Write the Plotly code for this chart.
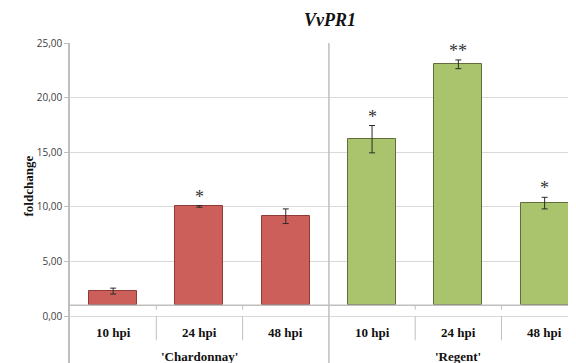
import plotly.graph_objects as go

# --- data ---
hpi_labels = ["10 hpi", "24 hpi", "48 hpi", "10 hpi", "24 hpi", "48 hpi"]
cultivars = ["'Chardonnay'", "'Regent'"]
chardonnay_vals = [2.3, 10.05, 9.15]
chardonnay_err = [0.27, 0.08, 0.67]
regent_vals = [16.2, 23.05, 10.35]
regent_err = [1.25, 0.4, 0.53]
stars = ["", "*", "", "*", "**", "*"]
baseline = 1.0
y_ticks = [0, 5, 10, 15, 20, 25]
y_ticktext = ["0,00", "5,00", "10,00", "15,00", "20,00", "25,00"]

serif = "Liberation Serif"
sans = "Open Sans"
grid_col = "#d9d9d9"
axis_col = "#bfbfbf"

# the page body adds an 8px offset, so the figure is a bit smaller
W, H = 568, 355
ML, MT = 62, 35
plot_w = W - ML

x_ch = [0, 1, 2]
x_re = [3, 4, 5]

fig = go.Figure()

fig.add_trace(go.Bar(
    x=x_ch, y=[v - baseline for v in chardonnay_vals], base=baseline,
    width=0.556,
    marker=dict(color="#cd5f5b", line=dict(color="#8e3b38", width=1)),
    error_y=dict(type="data", array=chardonnay_err, color="#2b2b2b",
                 thickness=1, width=3),
    showlegend=False,
))
fig.add_trace(go.Bar(
    x=x_re, y=[v - baseline for v in regent_vals], base=baseline,
    width=0.556,
    marker=dict(color="#a9c46c", line=dict(color="#5f6e3a", width=1)),
    error_y=dict(type="data", array=regent_err, color="#2b2b2b",
                 thickness=1, width=3),
    showlegend=False,
))

# --- significance stars ---
all_vals = chardonnay_vals + regent_vals
all_err = chardonnay_err + regent_err
for i, s in enumerate(stars):
    if s:
        fig.add_annotation(
            x=i, y=all_vals[i] + all_err[i], text=s, showarrow=False,
            yanchor="bottom", yshift=-3,
            font=dict(family=serif, size=18, color="#333333"),
        )

# --- category / group labels under the axis ---
for i, lab in enumerate(hpi_labels):
    fig.add_annotation(x=i, y=-1.47, text=f"<b>{lab}</b>", showarrow=False,
                       font=dict(family=serif, size=13, color="#111111"))
for xc, lab in zip([1, 4], cultivars):
    fig.add_annotation(x=xc, y=-3.66, text=f"<b>{lab}</b>", showarrow=False,
                       font=dict(family=serif, size=13, color="#111111"))

# --- lines: baseline axis, separators ---
shapes = [
    dict(type="line", xref="x", yref="y", x0=-0.5, x1=6, y0=baseline, y1=baseline,
         line=dict(color=axis_col, width=1.5)),
    dict(type="line", xref="x", yref="paper", x0=2.5, x1=2.5, y0=0, y1=1,
         line=dict(color=axis_col, width=1.5)),
]
for xb in [0.5, 1.5, 3.5, 4.5]:
    shapes.append(dict(type="line", xref="x", yref="y", x0=xb, x1=xb,
                       y0=baseline, y1=baseline - 0.4,
                       line=dict(color=axis_col, width=1)))
    shapes.append(dict(type="line", xref="x", yref="y", x0=xb, x1=xb,
                       y0=0, y1=-2.2,
                       line=dict(color=axis_col, width=1)))

fig.update_layout(
    width=W, height=H,
    margin=dict(l=ML, r=0, t=MT, b=0),
    paper_bgcolor="white", plot_bgcolor="white",
    bargap=0,
    shapes=shapes,
    title=dict(text="<b><i>VvPR1</i></b>", x=322 / W, xanchor="center",
               y=1 - 12 / H, yanchor="middle",
               font=dict(family=serif, size=18, color="#111111")),
)
fig.add_annotation(
    xref="paper", yref="paper", x=(10 - ML) / plot_w, y=(H - 178) / (H - MT),
    text="<b>foldchange</b>", textangle=-90, showarrow=False,
    font=dict(family=serif, size=13, color="#111111"),
)

fig.update_xaxes(range=[-0.5, -0.5 + plot_w / 86.3], showticklabels=False,
                 showgrid=False, zeroline=False, showline=False, ticks="",
                 automargin=False)
fig.update_yaxes(range=[-4.28, 25], tickvals=y_ticks, ticktext=y_ticktext,
                 showgrid=True, gridcolor=grid_col, gridwidth=1, zeroline=False,
                 showline=True, linecolor=axis_col, linewidth=1.5,
                 ticks="outside", ticklen=4, tickcolor=axis_col, automargin=False,
                 tickfont=dict(family=sans, size=10, color="#404040"))

fig.write_html("out.html")
